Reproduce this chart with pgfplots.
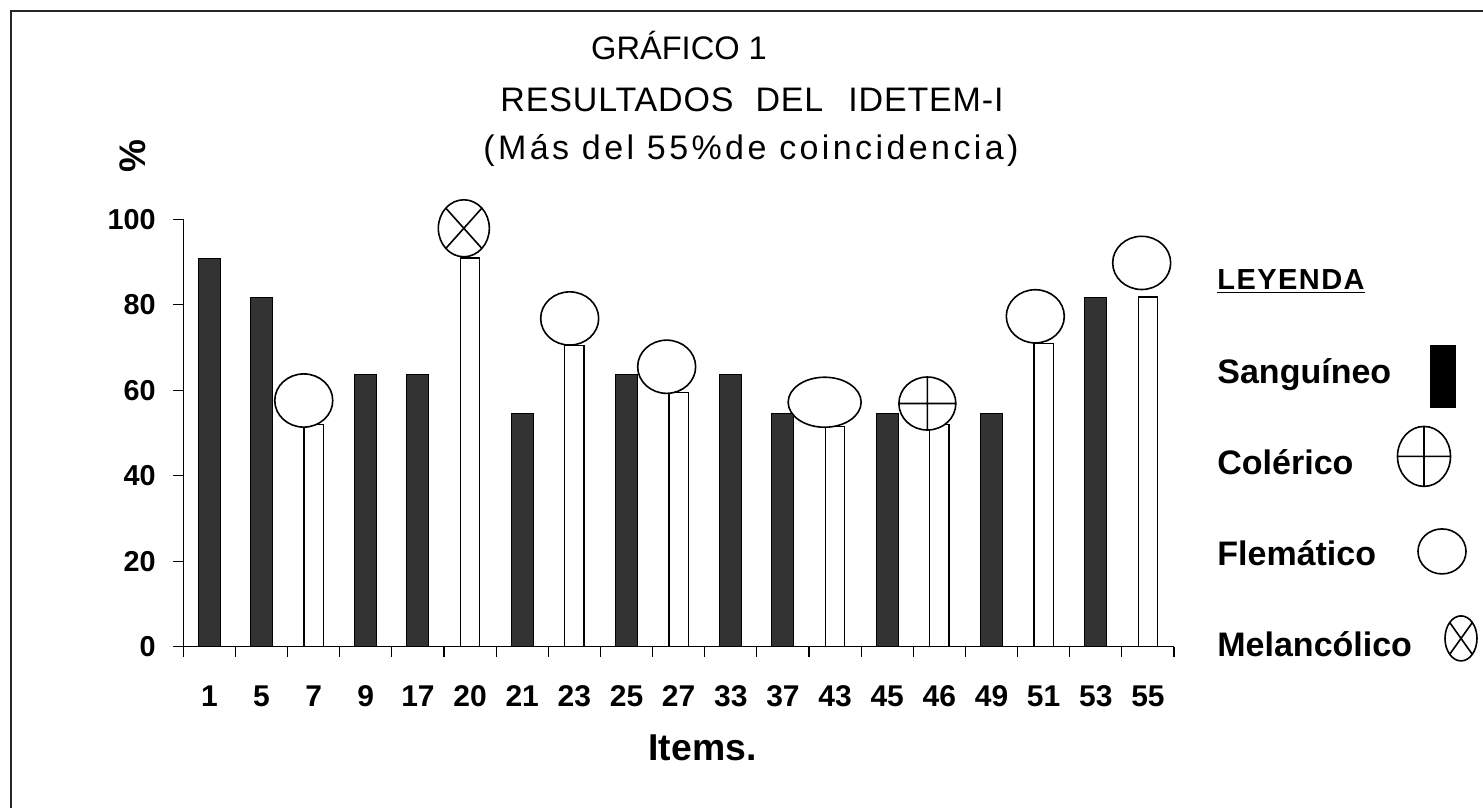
\documentclass[border=0pt]{standalone}
\usepackage{fontspec}
\setmainfont{Liberation Sans}
\usepackage{pgfplots}
\pgfplotsset{compat=1.18}
\usetikzlibrary{plotmarks}

\begin{document}
\begin{tikzpicture}[x=1pt,y=1pt]
\useasboundingbox (0,0) rectangle (741.5,-404);
\draw[line width=1pt, black!85] (5.25,-404) -- (5.25,-5.5) -- (741.5,-5.5);
\node[anchor=base, inner sep=0pt, font=\fontsize{16.3}{19}\selectfont] at (339.5,-30) {GRÁFICO 1};
\node[anchor=base, inner sep=0pt, font=\fontsize{17}{20}\selectfont\addfontfeatures{LetterSpace=2.5}] at (376,-55.8) {RESULTADOS\hspace{11pt}DEL\hspace{12.5pt}IDETEM-I};
\node[anchor=base, inner sep=0pt, font=\fontsize{17}{20}\selectfont\addfontfeatures{LetterSpace=10}] at (375.5,-80) {(Más del 55\%de coincidencia)};
\begin{axis}[
  at={(91.65pt,-323.35pt)}, anchor=south west,
  scale only axis, width=495.35pt, height=213.7pt,
  xmin=-0.5, xmax=18.5, ymin=0, ymax=100,
  axis x line*=bottom, axis y line*=left,
  axis line style={line width=0.6pt, black},
  clip=false,
  xtick={-0.5,0.5,...,18.5},
  xticklabels={},
  extra x ticks={0,1,...,18},
  extra x tick labels={1,5,7,9,17,20,21,23,25,27,33,37,43,45,46,49,51,53,55},
  extra x tick style={major tick length=0pt, xticklabel style={font=\bfseries\fontsize{15}{18}\selectfont, inner sep=0pt, anchor=base, yshift=-29.65pt}},
  ytick={0,20,40,60,80,100},
  tick align=outside,
  major tick length=5pt,
  tick style={black, line width=0.6pt},
  /pgf/number format/assume math mode=true,
  yticklabel style={font=\bfseries\fontsize{14.4}{17}\selectfont, inner sep=0pt, anchor=east, xshift=-8.65pt},
  xlabel={Items.},
  xlabel style={font=\bfseries\fontsize{18.7}{22}\selectfont, at={(axis description cs:0.524,0)}, anchor=base, yshift=-56.65pt},
  ylabel={\%},
  ylabel style={font=\bfseries\fontsize{18.5}{21}\selectfont, at={(axis description cs:-0.0505,1.148)}, anchor=center},
  legend plot pos=right,
  legend cell align=left,
  legend style={draw=none, fill=none, at={(1.0434,0.9305)}, anchor=north west, inner sep=0pt, row sep=13.5pt, column sep=0pt, nodes={inner sep=0pt}, font=\bfseries\fontsize{17}{20}\selectfont},
]
% Sanguineo (black bars)
\addplot[ybar, bar width=0.42, bar shift=0pt, fill=black!80, draw=black, line width=0.5pt, forget plot]
  coordinates {(0,90.9) (1,81.8) (3,63.6) (4,63.6) (6,54.5) (8,63.6) (10,63.6) (11,54.5) (13,54.5) (15,54.5) (17,81.8)};
% white bars (other temperaments)
\addplot[ybar, bar width=0.37, bar shift=0pt, fill=white, draw=black, line width=0.75pt, forget plot]
  coordinates {(2,52) (5,90.9) (7,70.5) (9,59.5) (12,51.5) (14,52) (16,71) (18,81.8)};
% Flematico markers
\addplot[only marks, mark=*, mark size=13.3pt, mark options={xscale=1.09, fill=white, draw=black, line width=0.8pt}, forget plot]
  coordinates {(1.81,57.6) (6.91,76.8) (8.77,65.5) (15.84,77.3) (17.88,89.8)};
\addplot[only marks, mark=*, mark size=12.5pt, mark options={xscale=1.46, fill=white, draw=black, line width=0.8pt}, forget plot]
  coordinates {(11.80,57.2)};
% Melancolico marker
\addplot[only marks, mark=otimes*, mark size=14.25pt, mark options={xscale=0.895, fill=white, draw=black, line width=0.8pt}, forget plot]
  coordinates {(4.88,97.9)};
% Colerico marker
\addplot[only marks, mark=oplus*, mark size=13.25pt, mark options={xscale=1.075, fill=white, draw=black, line width=0.8pt}, forget plot]
  coordinates {(13.77,56.9)};
% legend
\addlegendimage{legend image code/.code={\path[draw=none,fill=none] (0pt,-16pt) rectangle (30pt,16pt);}}
\addlegendentry{{\fontsize{14.5}{17}\selectfont\addfontfeatures{LetterSpace=5}\underline{LEYENDA}}}
\addlegendimage{legend image code/.code={\path[draw=none,fill=none] (0pt,-16pt) rectangle (30pt,16pt); \fill[black,overlay] (9pt,-17.5pt) rectangle (21.5pt,13.5pt);}}
\addlegendentry{Sanguíneo}
\addlegendimage{legend image code/.code={\path[draw=none,fill=none] (0pt,-16pt) rectangle (30pt,16pt); \draw[overlay,black,fill=none,line width=0.8pt] (6pt,3.5pt) ellipse [x radius=13.25pt, y radius=15pt] (-7.25pt,3.5pt) -- (19.25pt,3.5pt) (6pt,-11.5pt) -- (6pt,18.5pt);}}
\addlegendentry{Colérico}
\addlegendimage{legend image code/.code={\path[draw=none,fill=none] (0pt,-16pt) rectangle (30pt,16pt); \draw[overlay,black,fill=none,line width=0.8pt] (15pt,1.5pt) ellipse [x radius=12pt, y radius=11.25pt];}}
\addlegendentry{Flemático}
\addlegendimage{legend image code/.code={\path[draw=none,fill=none] (0pt,-16pt) rectangle (30pt,16pt); \draw[overlay,black,fill=none,line width=0.8pt] (24.5pt,3.5pt) ellipse [x radius=8pt, y radius=11.25pt] (18.84pt,11.45pt) -- (30.16pt,-4.45pt) (18.84pt,-4.45pt) -- (30.16pt,11.45pt);}}
\addlegendentry{Melancólico}
\end{axis}
\end{tikzpicture}
\end{document}
